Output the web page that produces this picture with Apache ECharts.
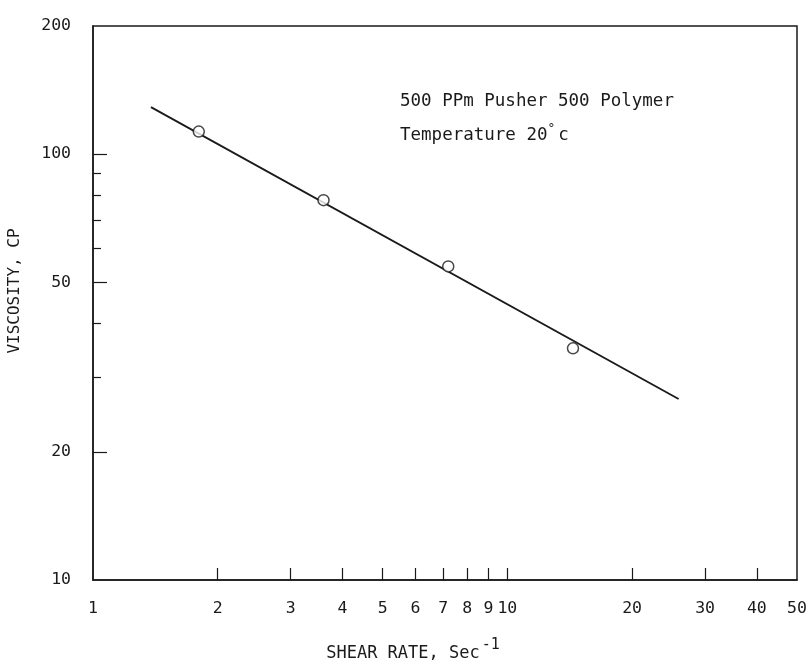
<!DOCTYPE html>
<html lang="en" style="height: 100%">
<head>
  <meta charset="utf-8">
</head>
<body style="height: 100%; margin: 0; background: #fff">
  <div id="container" style="height: 100%"></div>

  <script type="text/javascript" src="https://fastly.jsdelivr.net/npm/echarts@6.0.0/dist/echarts.min.js"></script>

  <script type="text/javascript">
    // measured points (shear rate, viscosity)
    var shearRate = [1.8, 3.6, 7.2, 14.4];
    var viscosity = [113, 78, 54.5, 35];
    // ends of the fitted line
    var fitRate = [1.38, 25.9];
    var fitVisc = [129, 26.6];

    var xTicks = [2, 3, 4, 5, 6, 7, 8, 9, 10, 20, 30, 40];
    var xLabels = [1, 2, 3, 4, 5, 6, 7, 8, 9, 10, 20, 30, 40, 50];
    var yTicksShort = [30, 40, 60, 70, 80, 90];
    var yTicksLong = [20, 50, 100];
    var yLabels = [10, 20, 50, 100, 200];

    var dom = document.getElementById('container');
    var myChart = echarts.init(dom, null, { renderer: 'canvas' });

    var font = 'DejaVu Sans Mono';
    var ink = '#1a1a1a';

    function yAxisBase() {
      return {
        type: 'log',
        logBase: 10,
        min: 10,
        max: 200,
        position: 'left',
        splitLine: { show: false }
      };
    }

    var yMain = yAxisBase();
    yMain.name = 'VISCOSITY, CP';
    yMain.nameLocation = 'middle';
    yMain.nameGap = 70;
    yMain.nameRotate = 90;
    yMain.nameTextStyle = { fontFamily: font, fontSize: 16, color: ink, padding: [0, 0, 0, 24] };
    yMain.axisLine = { lineStyle: { color: ink, width: 1.5 } };
    yMain.axisTick = { inside: true, length: 8, customValues: yTicksShort, lineStyle: { color: ink, width: 1.2 } };
    yMain.axisLabel = { customValues: yLabels, margin: 22, fontFamily: font, fontSize: 16.5, color: ink };

    // second copy of the y axis only for the longer ticks
    var yLong = yAxisBase();
    yLong.axisLine = { show: false };
    yLong.axisTick = { inside: true, length: 14, customValues: yTicksLong, lineStyle: { color: ink, width: 1.2 } };
    yLong.axisLabel = { show: false };

    var option = {
      backgroundColor: '#fff',
      animation: false,
      grid: {
        left: 93,
        right: 12,
        top: 26,
        bottom: 85,
        outerBoundsMode: 'none',
        show: true,
        borderColor: ink,
        borderWidth: 1.5
      },
      xAxis: {
        type: 'log',
        logBase: 10,
        min: 1,
        max: 50,
        name: '{a|SHEAR RATE, Sec}{b|-1}',
        nameLocation: 'middle',
        nameGap: 58,
        nameTextStyle: {
          padding: [0, 64, 0, 0],
          rich: {
            a: { fontFamily: font, fontSize: 17, color: ink },
            b: { fontFamily: font, fontSize: 15, color: ink, padding: [0, 0, 16, 2] }
          }
        },
        axisLine: { lineStyle: { color: ink, width: 1.5 } },
        axisTick: {
          inside: true,
          length: 12,
          customValues: xTicks,
          lineStyle: { color: ink, width: 1.2 }
        },
        axisLabel: {
          customValues: xLabels,
          margin: 20,
          fontFamily: font,
          fontSize: 16.5,
          color: ink
        },
        splitLine: { show: false },
        minorSplitLine: { show: false }
      },
      yAxis: [yMain, yLong],
      graphic: [
        {
          type: 'text',
          left: 400,
          top: 84,
          style: {
            text: '500 PPm Pusher 500 Polymer\nTemperature 20{s|°}c',
            fontFamily: font,
            fontSize: 17.5,
            lineHeight: 34,
            fill: ink,
            rich: {
              s: { fontFamily: font, fontSize: 13, padding: [0, 3, 12, 0], fill: ink }
            }
          }
        }
      ],
      series: [
        {
          type: 'line',
          data: fitRate.map(function (x, i) { return [x, fitVisc[i]]; }),
          symbol: 'none',
          lineStyle: { color: ink, width: 1.8 },
          z: 2
        },
        {
          type: 'scatter',
          data: shearRate.map(function (x, i) { return [x, viscosity[i]]; }),
          symbol: 'circle',
          symbolSize: 11,
          itemStyle: { color: '#fff', borderColor: ink, borderWidth: 1.5 },
          z: 3
        }
      ]
    };

    myChart.setOption(option);
    window.addEventListener('resize', myChart.resize);
  </script>
</body>
</html>
